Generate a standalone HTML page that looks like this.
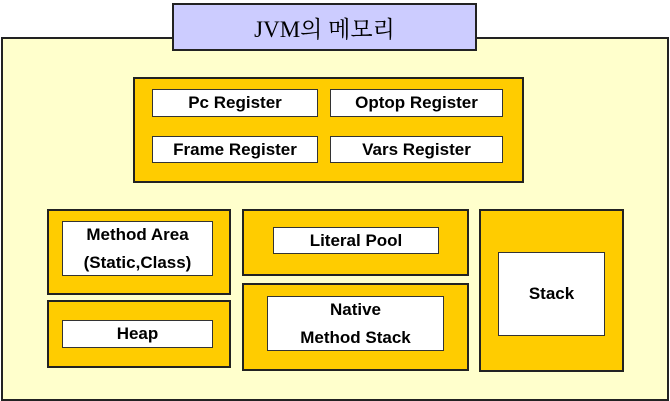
<!DOCTYPE html>
<html><head><meta charset="utf-8"><style>
body{margin:0;width:670px;height:401px;background:#fff;position:relative;overflow:hidden;font-family:"Liberation Sans",Arial,sans-serif;}
.b{position:absolute;box-sizing:border-box;border:2px solid #222;}
.y{background:#ffcc00;}
.w{background:#fff;border:1px solid #333;font-weight:bold;font-size:17px;color:#000;display:flex;align-items:center;justify-content:center;text-align:center;line-height:28px;}
</style></head><body>
<div class="b" style="left:1px;top:37px;width:668px;height:364px;background:#ffffcc;"></div>
<div class="b" style="left:172px;top:3px;width:305px;height:48px;background:#ccccff;font-family:'Liberation Serif','Noto Serif CJK SC',serif;font-size:23px;display:flex;align-items:center;justify-content:center;">JVM의 메모리</div>
<div class="b y" style="left:133px;top:77px;width:391px;height:106px;"></div>
<div class="b w" style="left:152px;top:89px;width:166px;height:28px;">Pc Register</div>
<div class="b w" style="left:330px;top:89px;width:173px;height:28px;">Optop Register</div>
<div class="b w" style="left:152px;top:136px;width:166px;height:27px;">Frame Register</div>
<div class="b w" style="left:330px;top:136px;width:173px;height:27px;">Vars Register</div>
<div class="b y" style="left:47px;top:209px;width:184px;height:86px;"></div>
<div class="b w" style="left:62px;top:221px;width:151px;height:55px;">Method Area<br>(Static,Class)</div>
<div class="b y" style="left:47px;top:300px;width:184px;height:68px;"></div>
<div class="b w" style="left:62px;top:320px;width:151px;height:28px;">Heap</div>
<div class="b y" style="left:242px;top:209px;width:227px;height:67px;"></div>
<div class="b w" style="left:273px;top:227px;width:166px;height:27px;">Literal Pool</div>
<div class="b y" style="left:242px;top:283px;width:227px;height:88px;"></div>
<div class="b w" style="left:267px;top:296px;width:177px;height:55px;">Native<br>Method Stack</div>
<div class="b y" style="left:479px;top:209px;width:145px;height:163px;"></div>
<div class="b w" style="left:498px;top:252px;width:107px;height:84px;">Stack</div>
</body></html>
